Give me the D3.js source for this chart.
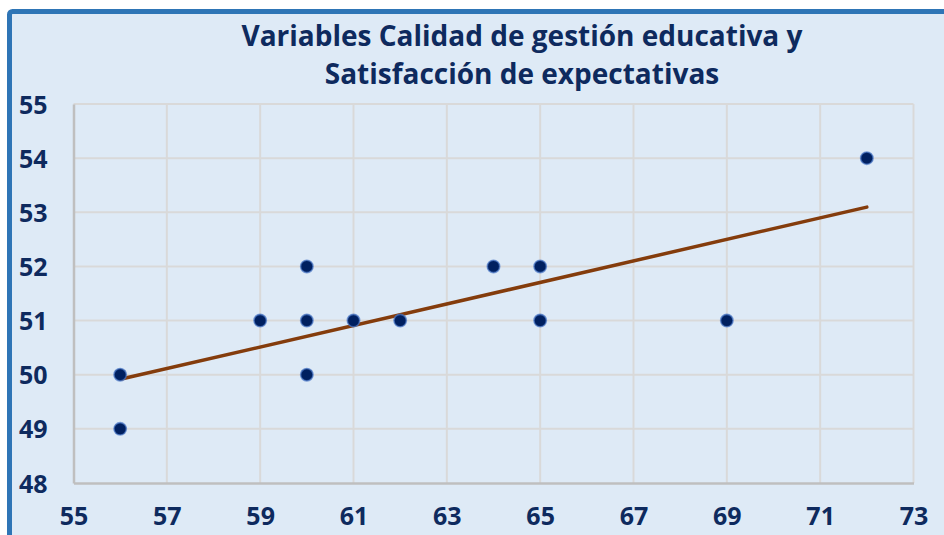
<!DOCTYPE html>
<html>
<head>
<meta charset="utf-8">
<script src="https://cdn.jsdelivr.net/npm/d3@7"></script>
<style>
  html, body { margin: 0; padding: 0; background: #fff; }
  svg { display: block; }
  text { font-family: "Open Sans", "Noto Sans", sans-serif; font-weight: bold; fill: #0E2A5E; }
</style>
</head>
<body>
<svg id="chart" width="944" height="535"></svg>
<script>
// Data
const calidad = [56, 56, 59, 60, 60, 60, 61, 62, 64, 65, 65, 69, 72];
const satisfaccion = [50, 49, 51, 52, 51, 50, 51, 51, 52, 52, 51, 51, 54];
const xTicks = [55, 57, 59, 61, 63, 65, 67, 69, 71, 73];
const yTicks = [48, 49, 50, 51, 52, 53, 54, 55];
const titleLines = ["Variables Calidad de gestión educativa y", "Satisfacción de expectativas"];

const points = calidad.map((x, i) => ({ x, y: satisfaccion[i] }));

const svg = d3.select("#chart");
const W = 944, H = 535;
const margin = { top: 104, right: 30, bottom: 52, left: 73.5 };

// chart frame: light blue fill, thick blue border that runs off the right and bottom
svg.append("rect")
  .attr("x", 9.5).attr("y", 11.5)
  .attr("width", W + 20).attr("height", H + 20)
  .attr("rx", 3)
  .attr("fill", "#DEEAF6")
  .attr("stroke", "#2E75B6")
  .attr("stroke-width", 5);

const x = d3.scaleLinear().domain([55, 73]).range([margin.left, 913.5]);
const y = d3.scaleLinear().domain([48, 55]).range([483, margin.top]);

// gridlines
const grid = svg.append("g");
grid.selectAll(".vgrid")
  .data(xTicks.slice(1))
  .enter().append("line")
  .attr("class", "vgrid")
  .attr("x1", d => x(d)).attr("x2", d => x(d))
  .attr("y1", y(55)).attr("y2", y(48))
  .attr("stroke", "#D9D9D9")
  .attr("stroke-width", 2);

grid.selectAll(".hgrid")
  .data(yTicks.slice(1))
  .enter().append("line")
  .attr("class", "hgrid")
  .attr("x1", x(55)).attr("x2", x(73))
  .attr("y1", d => y(d)).attr("y2", d => y(d))
  .attr("stroke", "#D9D9D9")
  .attr("stroke-width", 2);

// axes
const xAxis = svg.append("g")
  .attr("transform", `translate(0,${y(48)})`)
  .call(d3.axisBottom(x).tickValues(xTicks).tickSize(0).tickPadding(24).tickFormat(d3.format("d")));
const yAxis = svg.append("g")
  .attr("transform", `translate(${x(55)},0)`)
  .call(d3.axisLeft(y).tickValues(yTicks).tickSize(0).tickPadding(26).tickFormat(d3.format("d")));

[xAxis, yAxis].forEach(a => {
  a.select(".domain").attr("stroke", "#BFBFBF").attr("stroke-width", 2.5);
  a.selectAll("text")
    .style("font-family", "'Open Sans', 'Noto Sans', sans-serif")
    .style("font-weight", "bold")
    .style("font-size", "25px")
    .attr("fill", "#0E2A5E");
});
yAxis.selectAll("text").attr("dy", "0.36em");
xAxis.selectAll("text").attr("dy", "0.71em");

// linear trendline (least squares)
const mx = d3.mean(calidad), my = d3.mean(satisfaccion);
const slope = d3.sum(points, p => (p.x - mx) * (p.y - my)) / d3.sum(points, p => (p.x - mx) ** 2);
const intercept = my - slope * mx;
const xExt = d3.extent(calidad);
const trend = xExt.map(v => ({ x: v, y: intercept + slope * v }));

svg.append("path")
  .datum(trend)
  .attr("d", d3.line().x(d => x(d.x)).y(d => y(d.y)))
  .attr("fill", "none")
  .attr("stroke", "#843C0C")
  .attr("stroke-width", 3.5)
  .attr("stroke-linecap", "round");

// points
svg.selectAll(".dot")
  .data(points)
  .enter().append("circle")
  .attr("class", "dot")
  .attr("cx", d => x(d.x))
  .attr("cy", d => y(d.y))
  .attr("r", 6.2)
  .attr("fill", "#002060")
  .attr("stroke", "#4A78C8")
  .attr("stroke-opacity", 0.7)
  .attr("stroke-width", 1.6);

// title
svg.selectAll(".title")
  .data(titleLines)
  .enter().append("text")
  .attr("class", "title")
  .attr("x", 522)
  .attr("y", (d, i) => 46 + i * 37.5)
  .attr("text-anchor", "middle")
  .style("font-size", "28px")
  .text(d => d);
</script>
</body>
</html>
